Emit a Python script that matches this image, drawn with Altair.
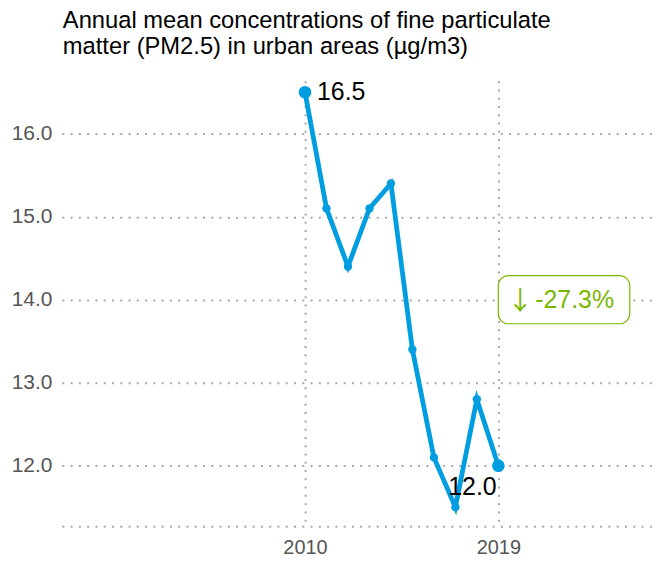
import altair as alt
import pandas as pd

years = [2010, 2011, 2012, 2013, 2014, 2015, 2016, 2017, 2018, 2019]
values = [16.5, 15.1, 14.4, 15.1, 15.4, 13.4, 12.1, 11.5, 12.8, 12.0]
y_ticks = [12, 13, 14, 15, 16]
x_ticks = [2010, 2019]
title_lines = ["Annual mean concentrations of fine particulate", "matter (PM2.5) in urban areas (µg/m3)"]

BLUE = "#009ee0"
GREEN = "#7ab800"
GRID = "#a8a8a8"

df = pd.DataFrame({"year": years, "value": values})
change = (values[-1] - values[0]) / values[0] * 100
ends = pd.DataFrame({"year": [years[0], years[-1]], "value": [values[0], values[-1]],
                     "label": [f"{values[0]:.1f}", f"{values[-1]:.1f}"]})
box = pd.DataFrame({"x": [years[-1]], "x2": [years[-1] + 6.12], "y": [13.71], "y2": [14.29],
                    "xm": [years[-1] + 3.06], "ym": [14.0],
                    "arrow": ["↓"], "label": [f"{change:.1f}%"]})

xs = alt.Scale(domain=[1998.68, 2026.2], nice=False, zero=False)
ys = alt.Scale(domain=[11.27, 16.64], nice=False, zero=False)

x_axis = alt.Axis(values=x_ticks, format="d", title=None, grid=True, gridDash=[2, 6.3],
                  gridColor=GRID, gridWidth=2, domain=True, domainDash=[2, 6.3],
                  domainColor=GRID, domainWidth=2, ticks=False,
                  labelFontSize=20, labelColor="#555555", labelPadding=11,
                  labelFont="Liberation Sans")
y_axis = alt.Axis(values=y_ticks, format=".1f", title=None, grid=True, gridDash=[2, 6.3],
                  gridColor=GRID, gridWidth=2, domain=False, ticks=False,
                  labelFontSize=21, labelColor="#555555", labelPadding=10,
                  labelFont="Liberation Sans")

base = alt.Chart(df)

line = base.mark_line(color=BLUE, strokeWidth=4.8).encode(
    x=alt.X("year:Q", scale=xs, axis=x_axis),
    y=alt.Y("value:Q", scale=ys, axis=y_axis),
)
pts = base.mark_circle(color=BLUE, opacity=1, size=70).encode(
    x=alt.X("year:Q", scale=xs), y=alt.Y("value:Q", scale=ys))
endpts = alt.Chart(ends).mark_circle(color=BLUE, opacity=1, size=160).encode(
    x=alt.X("year:Q", scale=xs), y=alt.Y("value:Q", scale=ys))
lab1 = alt.Chart(ends.iloc[[0]]).mark_text(
    align="left", baseline="middle", dx=12, fontSize=25, font="Liberation Sans", color="black"
).encode(x=alt.X("year:Q", scale=xs), y=alt.Y("value:Q", scale=ys), text="label:N")
lab2 = alt.Chart(ends.iloc[[1]]).mark_text(
    align="center", baseline="middle", dx=-26, dy=21, fontSize=25, font="Liberation Sans", color="black"
).encode(x=alt.X("year:Q", scale=xs), y=alt.Y("value:Q", scale=ys), text="label:N")

rect = alt.Chart(box).mark_rect(fill="white", stroke=GREEN, strokeWidth=1.2, cornerRadius=10).encode(
    x=alt.X("x:Q", scale=xs), x2="x2:Q", y=alt.Y("y:Q", scale=ys), y2="y2:Q")
boxarrow = alt.Chart(box).mark_text(
    align="center", baseline="middle", dx=-44, dy=2, fontSize=26, font="Noto Sans CJK SC", color=GREEN
).encode(x=alt.X("xm:Q", scale=xs), y=alt.Y("ym:Q", scale=ys), text="arrow:N")
boxtext = alt.Chart(box).mark_text(
    align="left", baseline="middle", dx=-29, fontSize=25, font="Liberation Sans", color=GREEN
).encode(x=alt.X("xm:Q", scale=xs), y=alt.Y("ym:Q", scale=ys), text="label:N")

chart = alt.layer(line, pts, endpts, lab1, lab2, rect, boxarrow, boxtext).properties(
    width=593, height=447,
    title=alt.TitleParams(text=title_lines, anchor="start", frame="group", dx=1, offset=22,
                          fontSize=23.8, font="Liberation Sans", fontWeight="normal",
                          color="black", lineHeight=26),
    autosize=alt.AutoSizeParams(type="none"),
    padding={"left": 54, "top": 72, "right": 0, "bottom": 36},
).configure_view(stroke=None)

chart.save("out.html", embed_options={"renderer": "svg", "actions": False})
